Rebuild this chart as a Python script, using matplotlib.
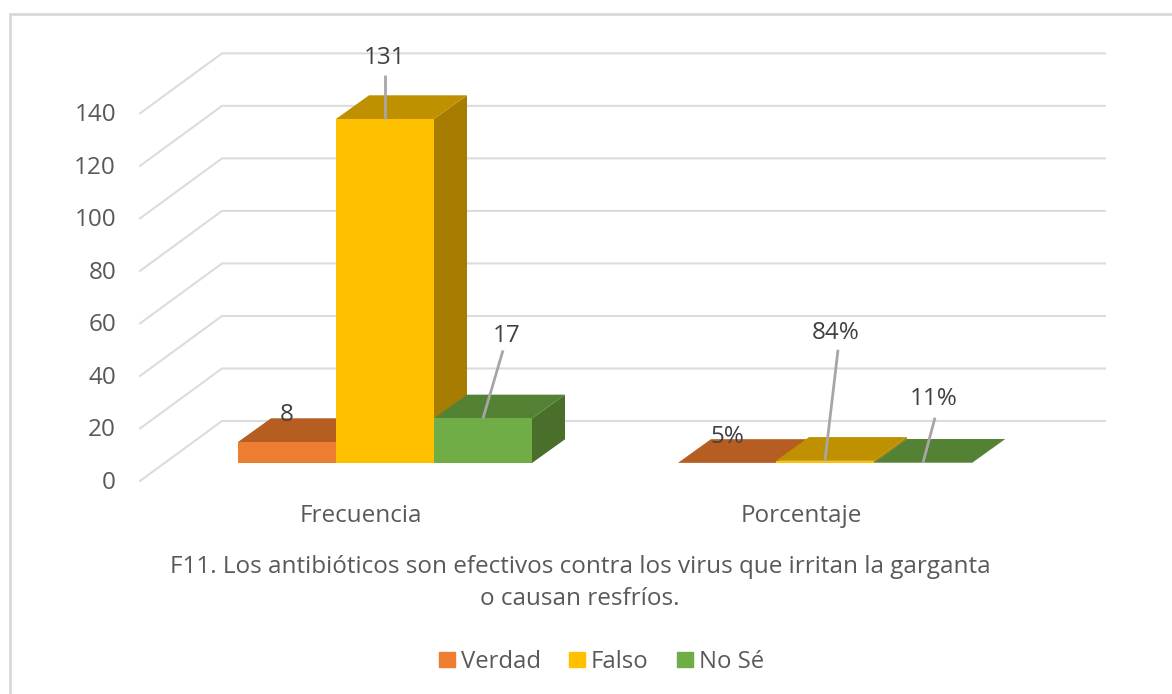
import matplotlib
matplotlib.use("Agg")
import matplotlib.pyplot as plt
from matplotlib.patches import Patch, Rectangle

plt.rcParams["font.family"] = ["Open Sans", "DejaVu Sans"]

# datos
categorias = ["Frecuencia", "Porcentaje"]
series = ["Verdad", "Falso", "No Sé"]
verdad = [8, 0.05]
falso = [131, 0.84]
no_se = [17, 0.11]
etiquetas = [["8", "5%"], ["131", "84%"], ["17", "11%"]]
ticks = [0, 20, 40, 60, 80, 100, 120, 140]

# colores: frente, arriba, lado
col_frente = ["#ED7D31", "#FFC000", "#70AD47"]
col_arriba = ["#B65E22", "#BF9000", "#548235"]
col_lado = ["#9E5A24", "#A67D00", "#4A6F2A"]

W, H = 1172, 694
ESC_X = 440.0   # px por categoria
ESC_Y = 2.626   # px por unidad
X0, Y0 = 385.0, 463.0  # px del origen (centro del primer grupo, base de barras)


def px(dx=0, dy=0):
    return dx / ESC_X, dy / ESC_Y


fig = plt.figure(figsize=(W / 100, H / 100), dpi=100)
ax = fig.add_axes([0, 0, 1, 1])
ax.set_xlim(-X0 / ESC_X, (W - X0) / ESC_X)
ax.set_ylim((Y0 - H) / ESC_Y, Y0 / ESC_Y)
ax.axis("off")

# marco
fig.add_artist(Rectangle((10 / W, -0.02), 1.1, 1 + 0.02 - 14 / H, transform=fig.transFigure,
                         fill=False, ec="#D9D9D9", lw=2.0))

# rejilla: pared de fondo y pared lateral
gx_fondo_izq = px(222 - X0)[0]
gx_fondo_der = px(1105 - X0)[0]
gx_frente = px(140 - X0)[0]
y_fondo = px(0, Y0 - 421)[1]
y_frente = px(0, Y0 - 481)[1]
for t in ticks:
    ax.plot([gx_frente, gx_fondo_izq, gx_fondo_der], [t + y_frente, t + y_fondo, t + y_fondo],
            color="#DCDCDC", lw=1.5, zorder=1, solid_joinstyle="miter")
    ax.text(px(116 - X0)[0], t + y_frente - px(0, 2)[1], str(t), ha="right", va="center",
            fontsize=17.5, color="#595959")

# barras 3D
ancho = 98 / ESC_X
prof_x, prof_y = px(33, 23.7)
valores = [verdad, falso, no_se]
z = 3
for c in range(len(categorias)):
    for s, vals in enumerate(valores):
        v = vals[c]
        x1 = c + (s - 1.5) * ancho
        x2 = x1 + ancho
        ax.fill([x2, x2 + prof_x, x2 + prof_x, x2], [0, prof_y, v + prof_y, v],
                color=col_lado[s], lw=0, zorder=z)
        ax.fill([x1, x2, x2 + prof_x, x1 + prof_x], [v, v, v + prof_y, v + prof_y],
                color=col_arriba[s], lw=0, zorder=z)
        ax.fill([x1, x2, x2, x1], [0, 0, v, v], color=col_frente[s], lw=0, zorder=z)
        z += 1

# etiquetas de datos con lineas guia (desplazamientos en px desde el centro de la barra)
desp_texto = [[(0, 27), (0, 26)], [(0, 61), (11, 128)], [(24, 82), (11, 64)]]
desp_linea = [[None, None], [(0, 44), (13, 111)], [(20, 68), (12, 45)]]
for s, vals in enumerate(valores):
    for c in range(len(categorias)):
        xc = c + (s - 1) * ancho
        v = vals[c]
        if desp_linea[s][c]:
            lx, ly = px(*desp_linea[s][c])
            ax.plot([xc, xc + lx], [v, v + ly], color="#A6A6A6", lw=2, zorder=20,
                    solid_capstyle="butt")
        tx, ty = px(*desp_texto[s][c])
        ax.text(xc + tx, v + ty, etiquetas[s][c], ha="center", va="center",
                fontsize=17.5, color="#404040", zorder=21)

# categorias
for c, nombre in enumerate(categorias):
    ax.text(c + px(-24)[0], px(0, Y0 - 516)[1], nombre, ha="center", va="center",
            fontsize=17.5, color="#595959")

# titulo del eje
ax.text(px(580 - X0)[0], px(0, Y0 - 583)[1],
        "F11. Los antibióticos son efectivos contra los virus que irritan la garganta\no causan resfríos.",
        ha="center", va="center", fontsize=17.5, color="#595959", linespacing=1.41)

# leyenda
handles = [Patch(color=col_frente[i], label=series[i]) for i in range(3)]
ax.legend(handles=handles, ncol=3, loc="center", bbox_to_anchor=(601.5 / W, 1 - 662 / H),
          bbox_transform=fig.transFigure, frameon=False, fontsize=17.2, labelcolor="#595959",
          handlelength=0.65, handleheight=0.58, handletextpad=0.25, columnspacing=1.2)

fig.savefig("out.png", dpi=100)
